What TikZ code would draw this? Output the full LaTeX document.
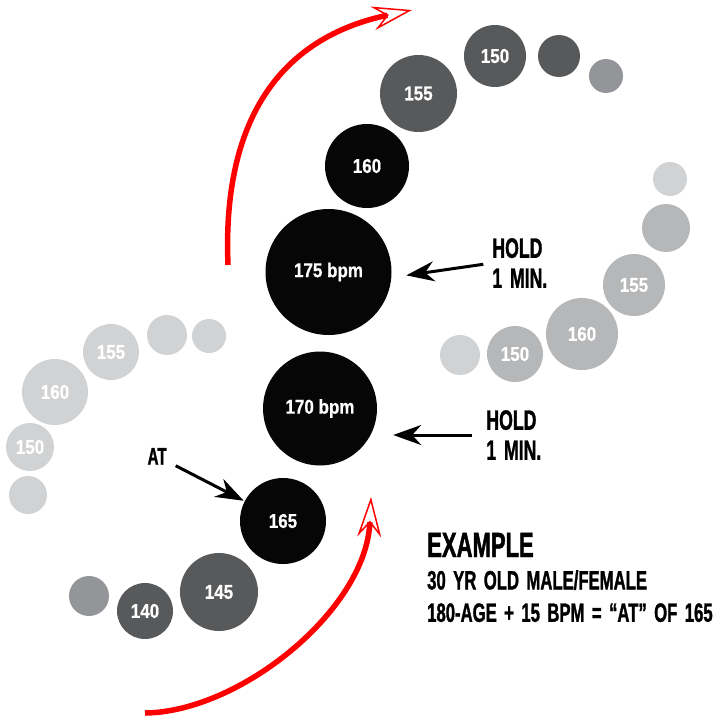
\documentclass[tikz,border=0pt]{standalone}
\usepackage{fontspec}
\usetikzlibrary{positioning,arrows.meta}
\newfontfamily\condfont[FakeStretch=0.63,FakeBold=1.2,WordSpace=1.6]{Liberation Sans Bold}
\newfontfamily\bubfont[FakeStretch=0.85,FakeBold=0.6]{Liberation Sans Bold}
\definecolor{bubblack}{HTML}{060606}
\definecolor{bubdark}{HTML}{58595B}
\definecolor{bubmid}{HTML}{939598}
\definecolor{bublight}{HTML}{B6B7B9}
\definecolor{bubpale}{HTML}{D1D2D4}
\definecolor{arcred}{HTML}{FF0000}
\tikzset{
  bubble/.style={circle, inner sep=0pt, text=white, font=\bubfont\fontsize{20}{20}\selectfont},
  holdtext/.style={align=left, inner sep=0pt, font=\condfont\fontsize{28}{30}\selectfont},
  exline/.style={inner sep=0pt, text depth=0pt, font=\condfont\fontsize{26.5}{30}\selectfont, text height=19pt},
  pointer/.style={line width=3pt, -{Stealth[length=28pt,width=20pt,inset=9pt]}},
  ramp/.style={draw=arcred, line width=5.5pt, -{Stealth[open,length=40pt,width=24pt,inset=14pt,line width=1.5pt]}},
}
\begin{document}
\begin{tikzpicture}[x=1pt, y=-1pt]
\useasboundingbox (0,0) rectangle (714,717);
% bubbles
\foreach \name/\x/\y/\r/\col/\lab in {
  c175/328.5/272/63/bubblack/175 bpm, c170/320/408.5/57/bubblack/170 bpm,
  c165/283/521/43/bubblack/165, c160/367/166/42/bubblack/160,
  up155/418.5/93.5/38.5/bubdark/155, up150/495/56/31/bubdark/150,
  updot/559/56/21/bubdark/{}, upend/606/76/17/bubmid/{},
  lo145/219/592/39/bubdark/145, lo140/145/611/28/bubdark/140,
  loend/89/596/20/bubmid/{},
  rt155/634/285/31/bublight/155, rt160/582/334/36/bublight/160,
  rt150/515/354/28/bublight/150, rtdot/666/228/24/bublight/{},
  rtend/670/179/17/bubpale/{}, rtfirst/460/355/20/bubpale/{},
  lf155/111/352/28/bubpale/155, lf160/55/392/33/bubpale/160,
  lf150/30/447/24/bubpale/150, lfend/28/495/19/bubpale/{},
  lfdot/167/335/20/bubpale/{}, lffirst/209/336/17/bubpale/{}}
  \node[bubble, fill=\col, minimum size={2*\r*1pt}] (\name) at (\x,\y) {\lab};
% labels
\node (hold1) [holdtext, right=100.5pt of c175, yshift=9pt] {HOLD\\1 MIN.};
\node (hold2) [holdtext, right=109pt of c170, yshift=-26.5pt] {HOLD\\1 MIN.};
\node (at) [inner sep=0pt, text height=17pt, text depth=0pt, font=\condfont\fontsize{24}{24}\selectfont,
  above left=25.6pt and 85.6pt of c165] {AT};
\node (ex1) [inner sep=0pt, text height=25pt, text depth=0pt, font=\condfont\fontsize{35}{35}\selectfont,
  anchor=base west] at (427,557) {EXAMPLE};
\node (ex2) [exline, below=13pt of ex1.south west, anchor=north west] {30 YR OLD MALE/FEMALE};
\node (ex3) [exline, below=13pt of ex2.south west, anchor=north west] {180-AGE + 15 BPM = “AT” OF 165};
% pointers
\draw[pointer, shorten <=9pt, shorten >=15pt] (hold1.west) -- (c175.-5);
\draw[pointer, shorten <=14pt, shorten >=16pt] (hold2.west) -- (hold2.west -| c170.east);
\draw[pointer, shorten <=10pt, shorten >=1pt] (at) -- (c165);
% red arcs
\coordinate (upstart) at (228,265);
\coordinate (uptip) at (412,10);
\coordinate (lowstart) at (145,713);
\coordinate (lowtip) at (371,497);
\draw[ramp] (upstart) .. controls (222,120) and (280,38) .. (uptip);
\draw[ramp] (lowstart) .. controls (240,712) and (366,610) .. (lowtip);
\end{tikzpicture}
\end{document}
